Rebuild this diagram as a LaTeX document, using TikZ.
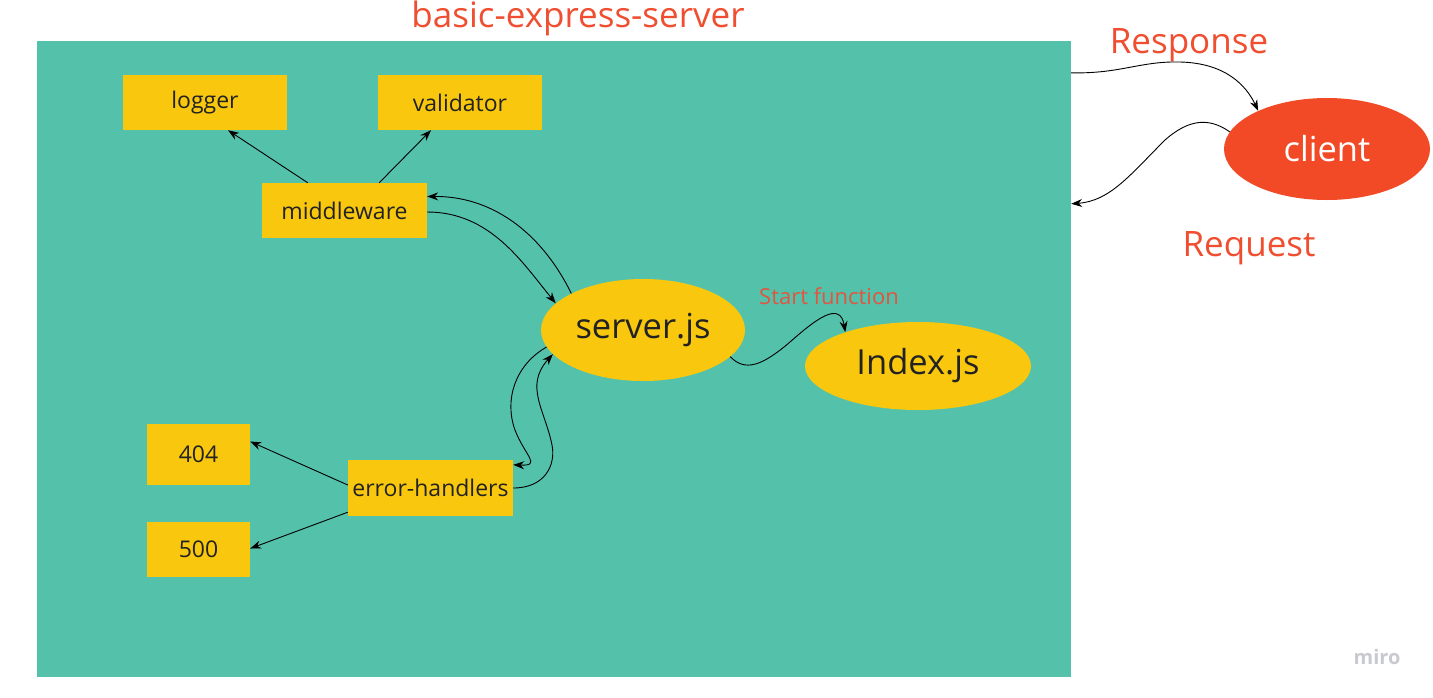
\documentclass[tikz,border=0pt]{standalone}
\usepackage{fontspec}
\setmainfont{Open Sans}
\usetikzlibrary{shapes.geometric,arrows.meta,calc}
\definecolor{teal1}{HTML}{54C1AB}
\definecolor{yel}{HTML}{F9C80E}
\definecolor{redc}{HTML}{F24A26}
\definecolor{redt}{HTML}{F04E30}
\definecolor{redl}{HTML}{E2553F}
\definecolor{txt}{HTML}{222222}
\definecolor{mirog}{HTML}{C9CAD0}
\tikzset{
  box/.style={rectangle,fill=yel,inner sep=0pt,text=txt,font=\fontsize{23}{27}\selectfont},
  oval/.style={ellipse,fill=yel,inner sep=0pt,text=txt,font=\fontsize{34.5}{40}\selectfont},
  conn/.style={line width=0.9pt,black,-{Stealth[length=11pt,width=8pt]}},
  lbl/.style={text=redt,font=\fontsize{35}{40}\selectfont,inner sep=0pt},
}
\begin{document}
\begin{tikzpicture}[x=1pt,y=-1pt]
\useasboundingbox (0,0) rectangle (1433,697);
\fill[white] (0,0) rectangle (1433,697);
\node[rectangle,fill=teal1,inner sep=0pt,minimum width=1034pt,minimum height=636pt] (board) at (554,359) {};
\node[lbl] (title) at (578,18) {basic-express-server};
\node[box,minimum width=164pt,minimum height=55pt] (logger) at (205,102.5) {logger};
\node[box,minimum width=164pt,minimum height=55pt] (validator) at (460,102.5) {validator};
\node[box,minimum width=165pt,minimum height=55pt] (mw) at (344.5,210.5) {middleware};
\node[oval,minimum width=204pt,minimum height=102pt] (srv) at (643,330) {server.js};
\node[oval,minimum width=226pt,minimum height=88pt] (idx) at (918,366) {Index.js};
\node[box,minimum width=103pt,minimum height=61pt] (e404) at (198.5,454.5) {404};
\node[box,minimum width=103pt,minimum height=55pt] (e500) at (198.5,549.5) {500};
\node[box,minimum width=165pt,minimum height=56pt] (eh) at (430.5,488) {error-handlers};
\node[ellipse,fill=redc,inner sep=0pt,minimum width=206pt,minimum height=102pt,text=white,font=\fontsize{34.5}{40}\selectfont] (client) at (1327,149) {client};
\node[lbl] (resp) at (1189,45) {Response};
\node[lbl] (req) at (1249,248) {Request};
\node[text=redl,font=\fontsize{22}{26}\selectfont,inner sep=0pt] (sf) at (829,296) {Start function};
\node[text=mirog,font=\bfseries\fontsize{20}{24}\selectfont,inner sep=0pt] (miro) at (1377,657) {miro};
% free ends on the board
\coordinate (bResp) at ([yshift=-32pt]board.north east);
\coordinate (bReq) at ([yshift=-163pt]board.north east);
% middleware branches
\draw[conn] ([xshift=46pt]mw.north west) -- ([xshift=23pt]logger.south);
\draw[conn] ([xshift=-48pt]mw.north east) -- ([xshift=-29pt]validator.south);
% middleware <-> server
\draw[conn] ([yshift=-1.5pt]mw.east) .. controls (490,212) and (522,262) .. (srv.163);
\draw[conn] (srv.153) .. controls (540,230) and (490,196) .. ([yshift=14pt]mw.east);
% server <-> error-handlers
\draw[conn] (srv.190) .. controls (515,365) and (504,400) .. (515,430) .. controls (525,456) and (542,466) .. ([yshift=-5pt]eh.north east);
\draw[conn] (eh.east) .. controls (545,488) and (556,465) .. (552,445) .. controls (545,410) and (524,386) .. (srv.195);
% error-handlers branches
\draw[conn] ([yshift=3pt]eh.west) -- ([yshift=13pt]e404.east);
\draw[conn] ([yshift=4pt]eh.south west) -- ([yshift=1pt]e500.east);
% server -> index
\draw[conn] (srv.343) .. controls (745,372) and (762,366) .. (790,342) .. controls (815,320) and (840,300) .. (idx.155);
% client
\draw[conn] (bResp) .. controls (1120,74) and (1140,61) .. (1180,62) .. controls (1225,63) and (1246,85) .. (client.151);
\draw[conn] (client.170) .. controls (1210,118) and (1190,118) .. (1165,140) .. controls (1130,175) and (1110,201) .. (bReq);
\end{tikzpicture}
\end{document}
